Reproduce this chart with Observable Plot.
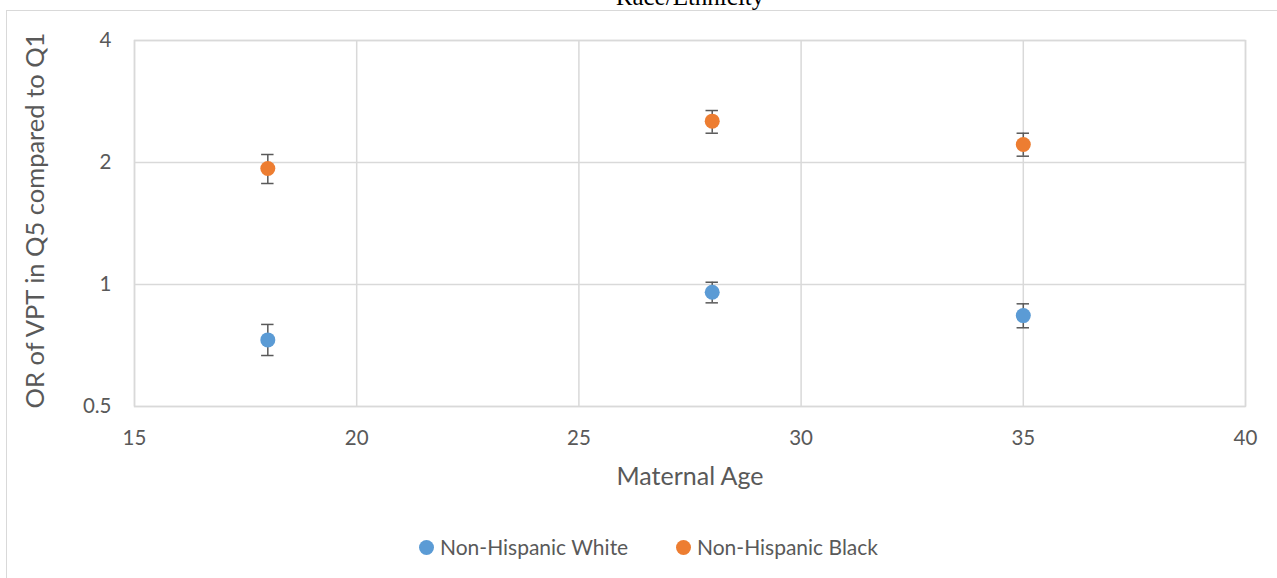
<!DOCTYPE html>
<html>
<head>
<meta charset="utf-8">
<script src="https://cdn.jsdelivr.net/npm/d3@7"></script>
<script src="https://cdn.jsdelivr.net/npm/@observablehq/plot@0.6"></script>
<style>
  html, body { margin: 0; padding: 0; background: #fff; overflow: hidden; }
  #wrap { position: relative; width: 1277px; height: 578px; overflow: hidden; font-family: Lato, "Open Sans", sans-serif; }
  #frame { position: absolute; left: 6px; top: 10px; width: 1400px; height: 700px; border-left: 1.5px solid #d9d9d9; border-top: 1.5px solid #d9d9d9; box-sizing: border-box; }
  #title { position: absolute; left: 0; width: 1380px; text-align: center; top: -16px; line-height: 25px; font-family: "Liberation Serif", "DejaVu Serif", serif; font-size: 25px; color: #000; white-space: nowrap; }
  #chart { position: absolute; left: 0; top: 0; }
  .item { position: absolute; top: 536px; height: 22px; line-height: 22px; display: flex; align-items: center; font-size: 21px; color: #595959; white-space: nowrap; }
  .sw { width: 15px; height: 15px; border-radius: 50%; display: inline-block; margin-right: 6px; }
</style>
</head>
<body>
<div id="wrap">
  <div id="frame"></div>
  <div id="title">Race/Ethnicity</div>
  <div id="chart"></div>
  <div id="legend"></div>
</div>
<script>
// Data
const ages = [18, 28, 35];
const seriesNames = ["Non-Hispanic White", "Non-Hispanic Black"];
const seriesColors = ["#5B9BD5", "#ED7D31"];
const whiteOR = [0.73, 0.957, 0.838];
const whiteLow = [0.668, 0.901, 0.782];
const whiteHigh = [0.797, 1.013, 0.896];
const blackOR = [1.933, 2.53, 2.216];
const blackLow = [1.775, 2.362, 2.073];
const blackHigh = [2.093, 2.687, 2.362];
const xTicks = [15, 20, 25, 30, 35, 40];
const yTicks = [0.5, 1, 2, 4];

const rows = [];
ages.forEach((a, i) => {
  rows.push({series: seriesNames[0], age: a, or: whiteOR[i], lo: whiteLow[i], hi: whiteHigh[i]});
  rows.push({series: seriesNames[1], age: a, or: blackOR[i], lo: blackLow[i], hi: blackHigh[i]});
});

const capHalf = 0.14;
const grid = "#d9d9d9";
const ink = "#595959";

const chart = Plot.plot({
  width: 1277,
  height: 500,
  marginLeft: 134,
  marginRight: 32,
  marginTop: 40,
  marginBottom: 94,
  style: { fontFamily: "Lato, 'Open Sans', sans-serif", fontSize: "20.5px", color: ink, background: "transparent", overflow: "visible" },
  x: { domain: [15, 40], ticks: xTicks, label: null },
  y: { type: "log", domain: [0.5, 4], ticks: yTicks, label: null },
  color: { domain: seriesNames, range: seriesColors },
  marks: [
    Plot.gridX(xTicks, { stroke: grid, strokeOpacity: 1, strokeWidth: 1.5 }),
    Plot.gridY(yTicks, { stroke: grid, strokeOpacity: 1, strokeWidth: 1.5 }),
    Plot.frame({ stroke: grid, strokeWidth: 1.5 }),
    Plot.axisX(xTicks, { tickSize: 0, tickPadding: 24, fontSize: 20.5, fill: ink, tickFormat: d => String(d), label: null }),
    Plot.axisY(yTicks, { tickSize: 0, tickPadding: 23, fontSize: 20.5, fill: ink, tickFormat: d => String(d), label: null }),
    Plot.text(["Maternal Age"], { frameAnchor: "bottom", lineAnchor: "middle", dy: 70, fontSize: 25, fill: ink }),
    Plot.text(["OR of VPT in Q5 compared to Q1"], { frameAnchor: "left", textAnchor: "middle", lineAnchor: "middle", dx: -99, dy: -3, rotate: -90, fontSize: 25.5, fill: ink }),
    Plot.ruleX(rows, { x: "age", y1: "lo", y2: "hi", stroke: ink, strokeWidth: 1.5 }),
    Plot.ruleY(rows, { y: "lo", x1: d => d.age - capHalf, x2: d => d.age + capHalf, stroke: ink, strokeWidth: 1.5 }),
    Plot.ruleY(rows, { y: "hi", x1: d => d.age - capHalf, x2: d => d.age + capHalf, stroke: ink, strokeWidth: 1.5 }),
    Plot.dot(rows, { x: "age", y: "or", fill: "series", r: 7.5, stroke: null })
  ]
});
document.getElementById("chart").appendChild(chart);

const legend = document.getElementById("legend");
const legendLeft = [419, 676];
seriesNames.forEach((name, i) => {
  const item = document.createElement("div");
  item.className = "item";
  item.style.left = legendLeft[i] + "px";
  const sw = document.createElement("span");
  sw.className = "sw";
  sw.style.background = seriesColors[i];
  item.appendChild(sw);
  item.appendChild(document.createTextNode(name));
  legend.appendChild(item);
});
</script>
</body>
</html>
